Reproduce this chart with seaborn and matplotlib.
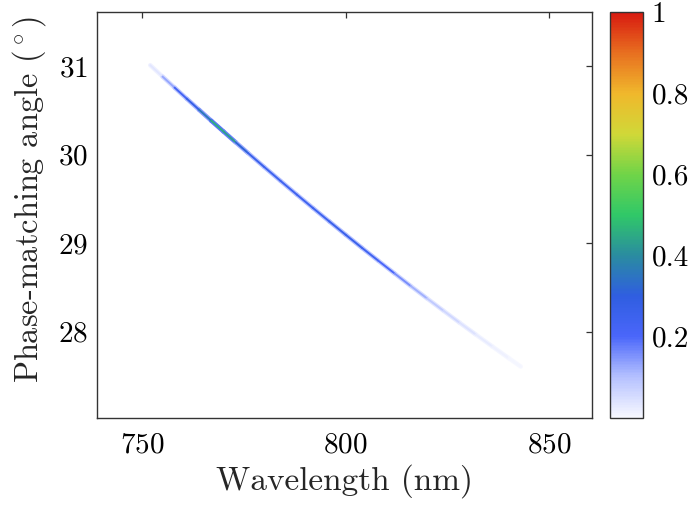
import numpy as np
import seaborn as sns
import matplotlib.pyplot as plt
from matplotlib.collections import LineCollection
from matplotlib.colors import Normalize
from matplotlib.cm import ScalarMappable
from matplotlib.ticker import MultipleLocator

# ridge of the phase-matching map
wavelength = [752, 755, 758, 761, 764, 767, 770, 773, 776, 780, 784, 788, 792,
              796, 800, 804, 808, 812, 816, 820, 824, 828, 832, 836, 840, 843]
angle = [31.012, 30.884, 30.758, 30.632, 30.508, 30.384, 30.262, 30.140,
         30.020, 29.861, 29.704, 29.549, 29.396, 29.245, 29.095, 28.947,
         28.802, 28.658, 28.515, 28.375, 28.237, 28.100, 27.966, 27.833,
         27.702, 27.605]
intensity = [0.01, 0.06, 0.20, 0.25, 0.30, 0.42, 0.50, 0.36, 0.27, 0.25, 0.24,
             0.24, 0.24, 0.25, 0.27, 0.25, 0.22, 0.18, 0.14, 0.10, 0.07, 0.05,
             0.03, 0.02, 0.01, 0.0]

xticks = [750, 800, 850]
yticks = [28, 29, 30, 31]
cbar_ticks = [0.2, 0.4, 0.6, 0.8, 1.0]
cbar_labels = ["0.2", "0.4", "0.6", "0.8", "1"]

sns.set_style("white")
plt.rcParams["font.family"] = "serif"
plt.rcParams["font.serif"] = ["cmr10"]
plt.rcParams["mathtext.fontset"] = "cm"
plt.rcParams["axes.formatter.use_mathtext"] = True

cmap = sns.blend_palette(
    ["#f7f8ff", "#b4c0ff", "#4a66fa", "#2f5ee0", "#2a8ca0", "#30c868",
     "#70d448", "#d0d838", "#f0b82c", "#e87020", "#d81a10"],
    as_cmap=True,
)
norm = Normalize(0, 1)

fig = plt.figure(figsize=(6.94, 5.08), dpi=100)
ax = fig.add_axes([97.3 / 694, 1 - 418.3 / 508, (592 - 97.3) / 694, (418.3 - 12.3) / 508])
cax = fig.add_axes([609.5 / 694, 1 - 417.7 / 508, (643.3 - 609.5) / 694, (417.7 - 12.3) / 508])

pts = np.column_stack([wavelength, angle])
segs = np.stack([pts[:-1], pts[1:]], axis=1)
val = np.array(intensity)
seg_val = (val[:-1] + val[1:]) / 2

# soft halo then the core of the ridge
halo = LineCollection(segs, cmap=cmap, norm=norm, linewidths=3.2, capstyle="round")
halo.set_array(seg_val * 0.4)
ax.add_collection(halo)
core = LineCollection(segs, cmap=cmap, norm=norm, linewidths=1.4, capstyle="round")
core.set_array(seg_val)
ax.add_collection(core)

ax.set_xlim(739, 860.5)
ax.set_ylim(27.02, 31.61)
ax.set_xticks(xticks)
ax.set_yticks(yticks)
ax.yaxis.set_minor_locator(MultipleLocator(0.2))
ax.tick_params(which="both", direction="in", top=True, right=True,
               colors="#333333", labelcolor="black", labelsize=21)
ax.tick_params(which="major", length=4, width=0.9)
ax.tick_params(which="minor", length=2.2, width=0.8, right=False)
ax.tick_params(axis="x", pad=10)
ax.tick_params(axis="y", pad=7)
for s in ax.spines.values():
    s.set_color("#333333")
    s.set_linewidth(1.0)

ax.set_xlabel("Wavelength (nm)", fontsize=24, labelpad=4)
ax.set_ylabel(r"Phase-matching angle $(^\circ)$", fontsize=23.3)
ax.yaxis.set_label_coords(-0.1, 0.54)

cb = fig.colorbar(ScalarMappable(norm=norm, cmap=cmap), cax=cax)
cb.set_ticks(cbar_ticks)
cb.set_ticklabels(cbar_labels)
cb.ax.tick_params(direction="in", length=3, width=0.8, labelsize=21, pad=6, colors="#333333", labelcolor="black")
cb.outline.set_edgecolor("#333333")
cb.outline.set_linewidth(1.0)

fig.savefig("out.png", dpi=100)
